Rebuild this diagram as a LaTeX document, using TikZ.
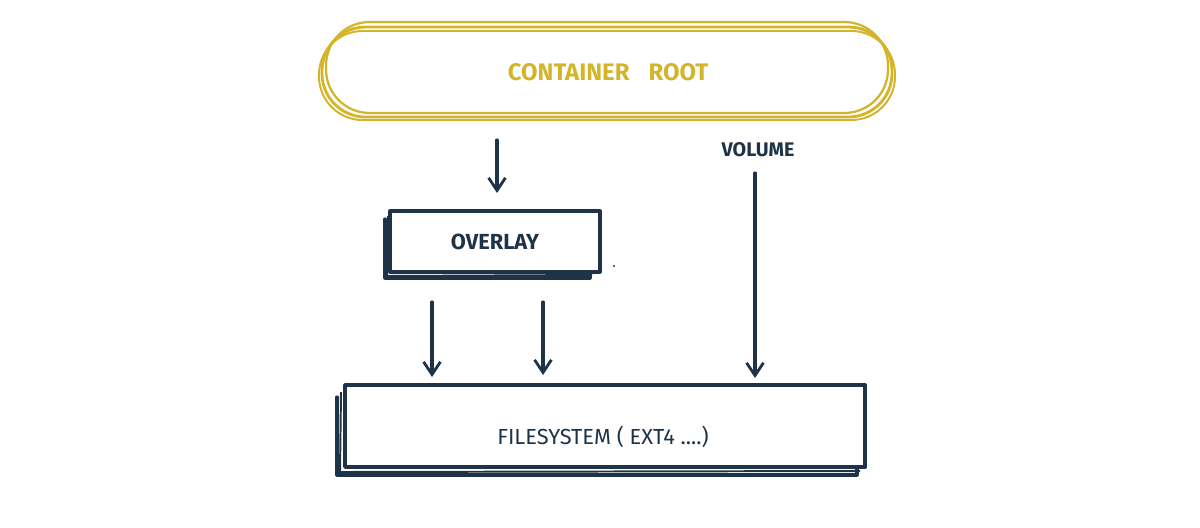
\documentclass[tikz,border=0pt]{standalone}
\usepackage{fontspec}
\setmainfont{Fira Sans}
\usetikzlibrary{arrows.meta}
\definecolor{ink}{HTML}{1E3347}
\definecolor{gold}{HTML}{D4B42A}
\tikzset{
  sk/.style={line width=2.2pt, line cap=round, line join=round},
  lbl/.style={text=ink, font=\bfseries\fontsize{14}{17}\selectfont},
  conn/.style={sk, draw=ink, -{Straight Barb[length=9pt,width=12pt,line width=2pt]}},
  boxn/.style={draw=ink, sk, fill=white, inner sep=0pt, text=ink, font=\bfseries\fontsize{15.5}{18}\selectfont},
}
\begin{document}
\begin{tikzpicture}[x=0.025cm,y=-0.025cm]
\useasboundingbox (0,0) rectangle (1200,527);
% container root
\draw[gold, line width=2pt, rounded corners=31pt] (322,27) rectangle (892,117);
\draw[gold, line width=1.6pt, rounded corners=31pt] (326,22) rectangle (888,113);
\draw[gold, line width=1.4pt, rounded corners=31pt] (319,31) rectangle (895,120);
\node[text=gold, font=\bfseries\fontsize{17}{20}\selectfont] (root) at (608,72) {CONTAINER\hspace{0.8em}ROOT};
% overlay
\draw[ink, sk] (385,219) -- (385,278) -- (590,278) -- (590,272);
\draw[ink, line width=1.4pt] (388,216) -- (387,276) -- (592,275);
\node[boxn, minimum width=5.25cm, minimum height=1.525cm, text depth=0pt, text height=12pt] (overlay) at (495,241.5) {OVERLAY};
\fill[ink] (614,266) circle (0.8pt);
% filesystem
\draw[ink, sk] (337,397) -- (337,475) -- (857,475) -- (857,466);
\draw[ink, line width=1.4pt] (341,392) -- (340,472) -- (860,471);
\node[boxn, line width=2.6pt, minimum width=13cm, minimum height=2.05cm] (fs) at (605,426) {};
\node[text=ink, font=\fontsize{15.5}{18}\selectfont] (fstext) at (603,437) {FILESYSTEM ( EXT4 ....)};
% volume
\node[lbl] (vol) at (758,150) {VOLUME};
% connectors
\coordinate (a1s) at (497,140); \coordinate (a1e) at (497,193);
\coordinate (a2s) at (432,302); \coordinate (a2e) at (432,377);
\coordinate (a3s) at (543,302); \coordinate (a3e) at (543,375);
\coordinate (a4s) at (755,173); \coordinate (a4e) at (755,378);
\draw[conn] (a1s) -- (a1e);
\draw[conn] (a2s) -- (a2e);
\draw[conn] (a3s) -- (a3e);
\draw[conn] (a4s) -- (a4e);
\end{tikzpicture}
\end{document}
